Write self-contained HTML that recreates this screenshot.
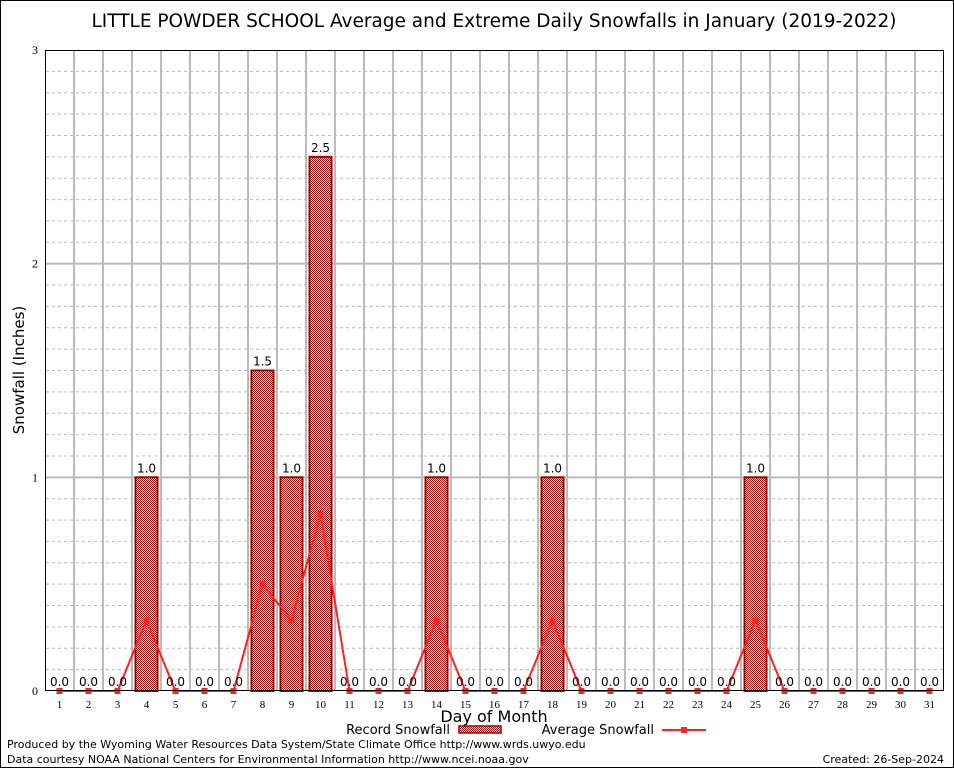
<!DOCTYPE html>
<html><head><meta charset="utf-8"><style>
body{margin:0;background:#fff}
svg{display:block;font-family:"DejaVu Sans","Liberation Sans",sans-serif}
</style></head><body>
<svg id="c" width="954" height="768">
<defs><pattern id="chk" width="2" height="2" patternUnits="userSpaceOnUse"><rect width="2" height="2" fill="#fff"/><rect width="1" height="1" fill="#a11"/><rect x="1" y="1" width="1" height="1" fill="#a11"/></pattern></defs>
<rect x="0.5" y="0.5" width="953" height="767" fill="#fff" stroke="#000"/>
<text x="494" y="27" font-size="18.5" text-anchor="middle">LITTLE POWDER SCHOOL Average and Extreme Daily Snowfalls in January (2019-2022)</text>
<g id="grid"></g><g id="bars"></g><g id="line"></g><g id="labels"></g>
<rect x="45.5" y="50.5" width="898" height="640" fill="none" stroke="#000"/>
<text transform="translate(24,370) rotate(-90)" font-size="15" text-anchor="middle">Snowfall (Inches)</text>
<text x="494" y="722" font-size="16" text-anchor="middle">Day of Month</text>
<g>
<text x="450" y="734" font-size="13" text-anchor="end">Record Snowfall</text>
<rect x="459" y="726" width="42" height="7" fill="url(#chk)" stroke="#900" stroke-width="1.5"/>
<text x="654" y="734" font-size="13" text-anchor="end">Average Snowfall</text>
<line x1="662" y1="730" x2="706" y2="730" stroke="#f22" stroke-width="2"/>
<rect x="681" y="727" width="6" height="6" fill="#f22"/>
</g>
<text x="7" y="748" font-size="11">Produced by the Wyoming Water Resources Data System/State Climate Office http://www.wrds.uwyo.edu</text>
<text x="7" y="763" font-size="11">Data courtesy NOAA National Centers for Environmental Information http://www.ncei.noaa.gov</text>
<text x="944" y="763" font-size="11" text-anchor="end">Created:  26-Sep-2024</text>
</svg>
<script>
const days=[1,2,3,4,5,6,7,8,9,10,11,12,13,14,15,16,17,18,19,20,21,22,23,24,25,26,27,28,29,30,31];
const records=[0,0,0,1.0,0,0,0,1.5,1.0,2.5,0,0,0,1.0,0,0,0,1.0,0,0,0,0,0,0,1.0,0,0,0,0,0,0];
const averages=[0,0,0,0.33,0,0,0,0.5,0.33,0.83,0,0,0,0.33,0,0,0,0.33,0,0,0,0,0,0,0.33,0,0,0,0,0,0];
const yTicks=[0,1,2,3];
const NS='http://www.w3.org/2000/svg';
const x=d=>45+(d-0.5)*29;
const y=v=>691-v*(641/3);
function mk(t,a,p){const e=document.createElementNS(NS,t);for(const k in a)e.setAttribute(k,a[k]);p.appendChild(e);return e;}
const G=document.getElementById('grid'),B=document.getElementById('bars'),L=document.getElementById('line'),T=document.getElementById('labels');
for(let i=1;i<30;i++){const v=i/10;if(i%10===0)continue;
 const l=mk('line',{x1:46,x2:943,y1:y(v),y2:y(v),stroke:'#bbb','stroke-dasharray':'3,3'},G);
 }
for(let d=1;d<31;d++){const l=mk('line',{x1:x(d)+14.5,x2:x(d)+14.5,y1:51,y2:690,stroke:'#bbb','stroke-width':2},G);
 }
yTicks.forEach(v=>{
 if(v>0&&v<3){const l=mk('line',{x1:46,x2:943,y1:y(v),y2:y(v),stroke:'#bbb','stroke-width':2},G);
 }
 const t=mk('text',{x:38,y:y(v)+4,'font-size':12,'text-anchor':'end','font-family':'Liberation Serif,serif'},T);t.textContent=v;
 
});
days.forEach((d,i)=>{
 const r=records[i];
 if(r>0){const b=mk('rect',{x:x(d)-11,y:y(r),width:22,height:y(0)-y(r),fill:'url(#chk)',stroke:'#900','stroke-width':2},B);
  }
 const t=mk('text',{x:x(d),y:y(r)-5,'font-size':12,'text-anchor':'middle'},T);t.textContent=r.toFixed(1);
 
 const k=mk('text',{x:x(d),y:708,'font-size':11,'text-anchor':'middle','font-family':'Liberation Serif,serif'},T);k.textContent=d;
 
});
const pl=mk('polyline',{points:days.map((d,i)=>x(d)+','+y(averages[i])).join(' '),fill:'none',stroke:'#f22','stroke-width':2},L);

days.forEach((d,i)=>{const m=mk('rect',{x:x(d)-3,y:y(averages[i])-3,width:6,height:6,fill:'#f22'},L);
 });
</script>
</body></html>
